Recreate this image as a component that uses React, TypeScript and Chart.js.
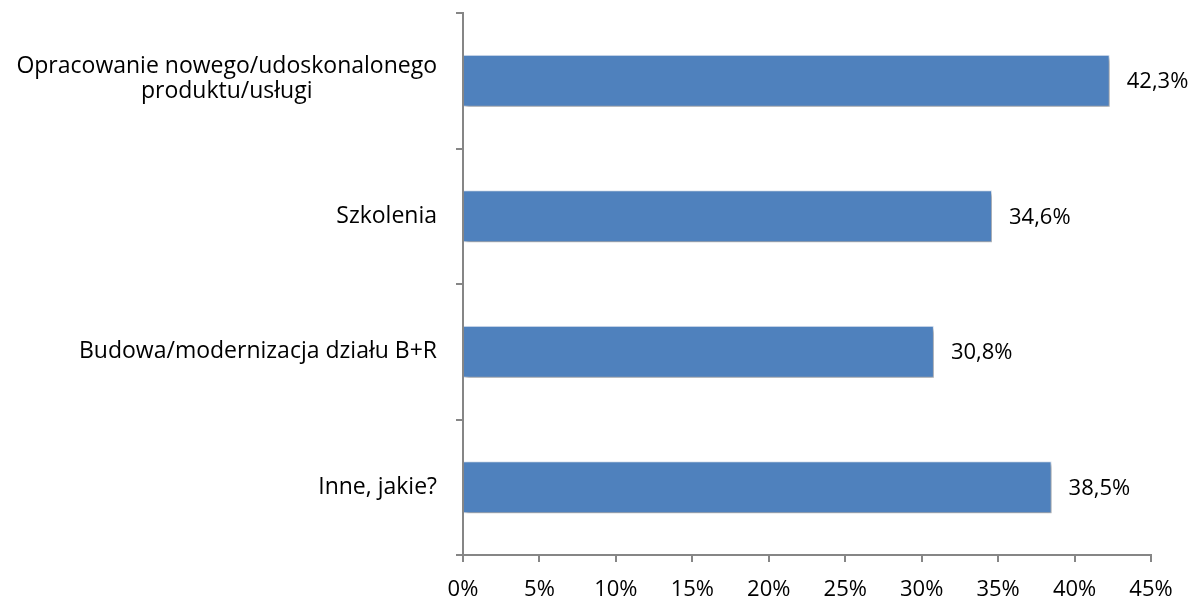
import React, { useEffect, useRef } from "react";
import { Chart, registerables } from "chart.js";

Chart.register(...registerables);

const categories: string[][] = [
  ["Opracowanie nowego/udoskonalonego", "produktu/usługi"],
  ["Szkolenia"],
  ["Budowa/modernizacja działu B+R"],
  ["Inne, jakie?"],
];
const values: number[] = [42.3, 34.6, 30.8, 38.5];
const tickValues: number[] = [0, 5, 10, 15, 20, 25, 30, 35, 40, 45];

const FONT = "'Open Sans', Lato, sans-serif";
const FONT_SIZE = 22;
const LABEL_FONT_SIZE = 23;
const AXIS_COLOR = "#868686";

const customPlugin = {
  id: "custom",
  beforeDatasetsDraw(chart: any) {
    const ctx = chart.ctx;
    ctx.save();
    ctx.shadowColor = "rgba(0,0,0,0.35)";
    ctx.shadowOffsetX = 2;
    ctx.shadowOffsetY = 3;
    ctx.shadowBlur = 4;
  },
  afterDatasetsDraw(chart: any) {
    const ctx = chart.ctx;
    ctx.restore();
    ctx.save();
    ctx.font = `${FONT_SIZE}px ${FONT}`;
    ctx.fillStyle = "#000";
    ctx.textBaseline = "middle";
    ctx.textAlign = "left";
    const meta = chart.getDatasetMeta(0);
    meta.data.forEach((bar: any, i: number) => {
      const txt = values[i].toFixed(1).replace(".", ",") + "%";
      ctx.fillText(txt, bar.x + 17, bar.y + 1);
    });
    // y labels
    ctx.font = `${LABEL_FONT_SIZE}px ${FONT}`;
    const yScale = chart.scales.y;
    const rightEdge = 437;
    const lineH = 25;
    categories.forEach((lines, i) => {
      const cy = yScale.getPixelForValue(i);
      const widths = lines.map((l) => ctx.measureText(l).width);
      const maxW = Math.max(...widths);
      const cx = rightEdge - maxW / 2;
      ctx.textAlign = "center";
      const startY = cy - ((lines.length - 1) * lineH) / 2 - (lines.length > 1 ? 2 : 0);
      lines.forEach((l, j) => {
        ctx.fillText(l, cx, startY + j * lineH);
      });
    });
    ctx.restore();
  },
};

export default function App() {
  const canvasRef = useRef<HTMLCanvasElement | null>(null);

  useEffect(() => {
    document.body.style.margin = "0";
    const canvas = canvasRef.current;
    if (!canvas) return;
    const chart = new Chart(canvas, {
      type: "bar",
      data: {
        labels: categories.map((c) => c.join(" ")),
        datasets: [
          {
            data: values,
            backgroundColor: "#4F81BD",
            borderColor: "#e4ecf6",
            borderWidth: 1,
            barPercentage: 0.384,
            categoryPercentage: 1,
          },
        ],
      },
      options: {
        indexAxis: "y",
        animation: false,
        responsive: false,
        maintainAspectRatio: false,
        layout: { padding: { left: 0, top: 13, right: 44, bottom: 0 } },
        plugins: {
          legend: { display: false },
          tooltip: { enabled: false },
        },
        scales: {
          x: {
            type: "linear",
            min: 0,
            max: 45,
            afterBuildTicks: (scale: any) => {
              scale.ticks = tickValues.map((v) => ({ value: v }));
            },
            afterFit: (scale: any) => {
              scale.height = 46;
            },
            ticks: {
              callback: (v: any) => v + "%",
              color: "#000",
              font: { family: FONT, size: FONT_SIZE },
              padding: 15,
              maxRotation: 0,
            },
            grid: {
              drawOnChartArea: false,
              drawTicks: true,
              tickLength: 7,
              color: AXIS_COLOR,
              lineWidth: 2,
            },
            border: { color: AXIS_COLOR, width: 2 },
          },
          y: {
            type: "category",
            afterFit: (scale: any) => {
              scale.width = 463;
            },
            ticks: { display: false },
            grid: {
              offset: true,
              drawOnChartArea: false,
              drawTicks: true,
              tickLength: 7,
              color: AXIS_COLOR,
              lineWidth: 2,
            },
            border: { color: AXIS_COLOR, width: 2 },
          },
        },
      },
      plugins: [customPlugin],
    });
    return () => chart.destroy();
  }, []);

  return (
    <div style={{ position: "absolute", left: 0, top: 0, width: 1195, height: 601, background: "#fff" }}>
      <canvas ref={canvasRef} width={1195} height={601} style={{ width: 1195, height: 601 }} />
    </div>
  );
}
